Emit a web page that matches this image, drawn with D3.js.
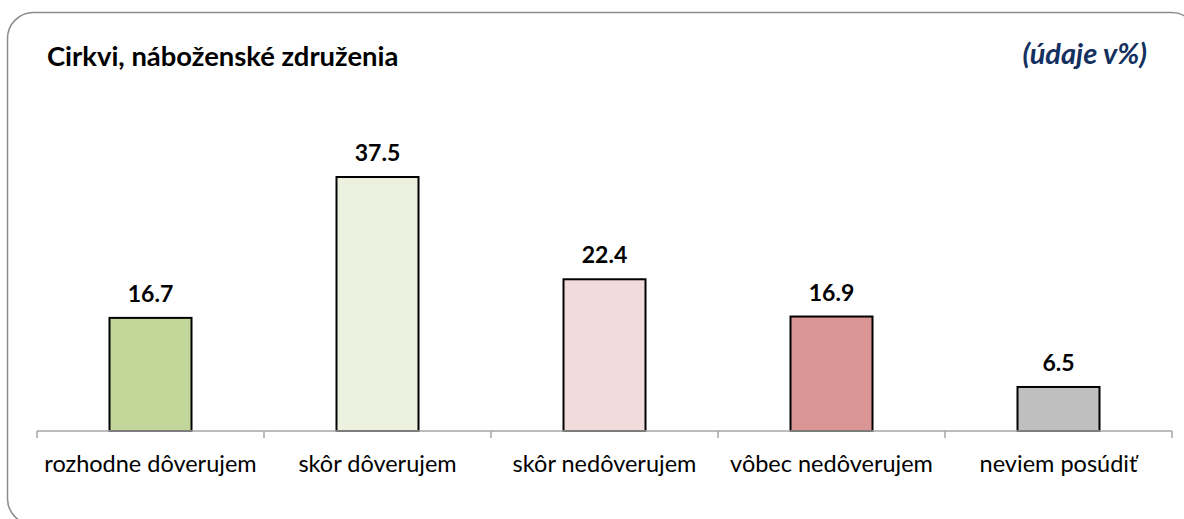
<!DOCTYPE html>
<html>
<head>
<meta charset="utf-8">
<script src="https://cdn.jsdelivr.net/npm/d3@7"></script>
<style>
  html, body { margin: 0; padding: 0; background: #ffffff; }
  svg { display: block; }
</style>
</head>
<body>
<svg id="chart" width="1184" height="519"></svg>
<script>
// Survey answers: trust in churches and religious associations (percent)
const categories = ["rozhodne dôverujem", "skôr dôverujem", "skôr nedôverujem", "vôbec nedôverujem", "neviem posúdiť"];
const values = [16.7, 37.5, 22.4, 16.9, 6.5];
const barColors = ["#c4d79b", "#ebf1de", "#f2dcdb", "#da9694", "#bfbfbf"];
const titleText = "Cirkvi, náboženské združenia";
const unitText = "(údaje v%)";

const svg = d3.select("#chart");
const fontFamily = "Lato, 'Open Sans', sans-serif";

// Rounded outer frame
svg.append("rect")
  .attr("x", 7.5).attr("y", 12.5)
  .attr("width", 1190).attr("height", 512)
  .attr("rx", 26).attr("ry", 26)
  .attr("fill", "#ffffff")
  .attr("stroke", "#8c8c8c")
  .attr("stroke-width", 1.5);

// Plot area
const x0 = 37, x1 = 1172, baseY = 431;
const x = d3.scaleBand().domain(categories).range([x0, x1]).paddingInner(0).paddingOuter(0);
const y = d3.scaleLinear().domain([0, 37.5]).range([baseY, 177]);
const barW = 82;

// Bars
svg.append("g").selectAll("rect")
  .data(values)
  .join("rect")
  .attr("x", (d, i) => x(categories[i]) + x.bandwidth() / 2 - barW / 2)
  .attr("y", d => y(d))
  .attr("width", barW)
  .attr("height", d => baseY - y(d))
  .attr("fill", (d, i) => barColors[i])
  .attr("stroke", "#000000")
  .attr("stroke-width", 2);

// Category axis
const axis = d3.axisBottom(x).tickSize(0).tickPadding(0).tickFormat("");
const axisG = svg.append("g").attr("transform", `translate(0,${baseY})`).call(axis);
axisG.select(".domain").remove();
axisG.append("line")
  .attr("x1", x0).attr("x2", x1)
  .attr("y1", 0).attr("y2", 0)
  .attr("stroke", "#a6a6a6").attr("stroke-width", 1.5);
// Tick marks at band boundaries
const boundaries = categories.map(c => x(c)).concat([x1]);
axisG.selectAll("line.bound")
  .data(boundaries)
  .join("line")
  .attr("class", "bound")
  .attr("x1", d => d).attr("x2", d => d)
  .attr("y1", 0).attr("y2", 7)
  .attr("stroke", "#a6a6a6").attr("stroke-width", 1.5);

// Category labels
svg.append("g").selectAll("text")
  .data(categories)
  .join("text")
  .attr("x", d => x(d) + x.bandwidth() / 2)
  .attr("y", 472)
  .attr("text-anchor", "middle")
  .attr("font-family", fontFamily)
  .attr("font-size", 23.5)
  .attr("fill", "#000000")
  .text(d => d);

// Value labels
svg.append("g").selectAll("text")
  .data(values)
  .join("text")
  .attr("x", (d, i) => x(categories[i]) + x.bandwidth() / 2)
  .attr("y", d => y(d) - 16)
  .attr("text-anchor", "middle")
  .attr("font-family", fontFamily)
  .attr("font-size", 23)
  .attr("font-weight", "bold")
  .attr("fill", "#000000")
  .text(d => d.toFixed(1));

// Title
svg.append("text")
  .attr("x", 47).attr("y", 66)
  .attr("font-family", fontFamily)
  .attr("font-size", 27.4)
  .attr("font-weight", "bold")
  .attr("fill", "#000000")
  .text(titleText);

// Unit note
svg.append("text")
  .attr("x", 1147).attr("y", 64)
  .attr("text-anchor", "end")
  .attr("font-family", fontFamily)
  .attr("font-size", 29)
  .attr("font-weight", "bold")
  .attr("font-style", "italic")
  .attr("fill", "#14305f")
  .text(unitText);
</script>
</body>
</html>
